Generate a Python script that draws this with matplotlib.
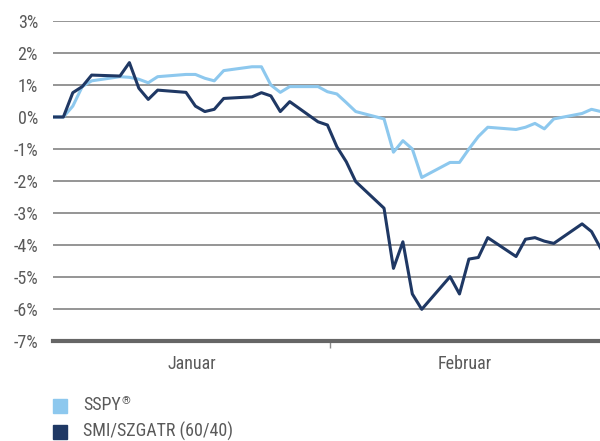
import matplotlib.pyplot as plt
from matplotlib.patches import Rectangle

# trading days, counted in calendar days from the first point
days = [0, 1, 2, 3, 4, 7, 8, 9, 10, 11, 14, 15, 16, 17, 18, 21, 22, 23, 24, 25,
        28, 29, 30, 31, 32, 35, 36, 37, 38, 39, 42, 43, 44, 45, 46,
        49, 50, 51, 52, 53, 56, 57, 58]

sspy = [0.0, 0.0, 0.34, 0.95, 1.13, 1.26, 1.24, 1.18, 1.07, 1.26,
        1.33, 1.33, 1.21, 1.13, 1.45, 1.57, 1.57, 1.0, 0.77, 0.95,
        0.95, 0.79, 0.72, 0.45, 0.17, -0.06, -1.10, -0.74, -1.0, -1.89,
        -1.42, -1.42, -1.0, -0.61, -0.32, -0.39, -0.32, -0.20, -0.37, -0.06,
        0.11, 0.24, 0.17]

smi = [0.0, 0.0, 0.76, 0.95, 1.31, 1.28, 1.70, 0.90, 0.55, 0.84,
       0.77, 0.34, 0.17, 0.24, 0.58, 0.63, 0.76, 0.66, 0.17, 0.48,
       -0.15, -0.25, -0.93, -1.40, -2.02, -2.85, -4.73, -3.90, -5.53, -6.01,
       -4.99, -5.53, -4.44, -4.39, -3.77, -4.36, -3.82, -3.77, -3.88, -3.95,
       -3.34, -3.58, -4.12]

months = ["Januar", "Februar"]
yticks = list(range(-7, 4))

light = "#8DC8EE"
dark = "#1F3864"
grey = "#5a5a5a"

plt.rcParams['font.family'] = ['Roboto Condensed', 'DejaVu Sans']

fig = plt.figure(figsize=(6, 4.41), dpi=100)
ax = fig.add_axes([53 / 600, 1 - 341 / 441, 547 / 600, 320 / 441])

for v in yticks[1:]:
    ax.axhline(v, color="#8c8c8c", linewidth=1.3, zorder=1)

ax.plot(days, sspy, color=light, linewidth=2.2, zorder=3)
ax.plot(days, smi, color=dark, linewidth=2.2, zorder=4)

ax.set_xlim(-0.1, 57.9)
ax.set_ylim(-7, 3)

for s in ["top", "right", "left"]:
    ax.spines[s].set_visible(False)
ax.spines["bottom"].set_color("#666666")
ax.spines["bottom"].set_linewidth(3)

sep = 29.27
ax.set_xticks([sep])
ax.set_xticklabels([""])
ax.tick_params(axis="x", direction="out", length=5, width=1, color="#8c8c8c")
ax.set_xticks([(-0.1 + sep) / 2, (sep + 57.9) / 2], minor=True)
ax.set_xticklabels(months, minor=True)
ax.tick_params(axis="x", which="minor", length=0, pad=10, labelsize=13, labelcolor=grey)

ax.set_yticks(yticks)
ax.set_yticklabels([f"{v}%" for v in yticks])
ax.tick_params(axis="y", length=0, pad=10.8, labelsize=13, labelcolor=grey)

# legend
fig.canvas.draw()
r = fig.canvas.get_renderer()
labels = ["SSPY", "SMI/SZGATR (60/40)"]
for i, (lab, col) in enumerate(zip(labels, [light, dark])):
    y0 = 1 - (413 + i * 26) / 441
    fig.patches.append(Rectangle((53 / 600, y0), 14 / 600, 14 / 441,
                                 transform=fig.transFigure, color=col))
    t = fig.text(83 / 600, y0 + 8 / 441, lab, fontsize=13, color=grey, va="center")
    if i == 0:
        bb = t.get_window_extent(r)
        fig.text(bb.x1 / 600 + 1 / 600, y0 + 7 / 441, "®", fontsize=8,
                 color=grey, va="bottom")

fig.savefig("out.png", dpi=100)
